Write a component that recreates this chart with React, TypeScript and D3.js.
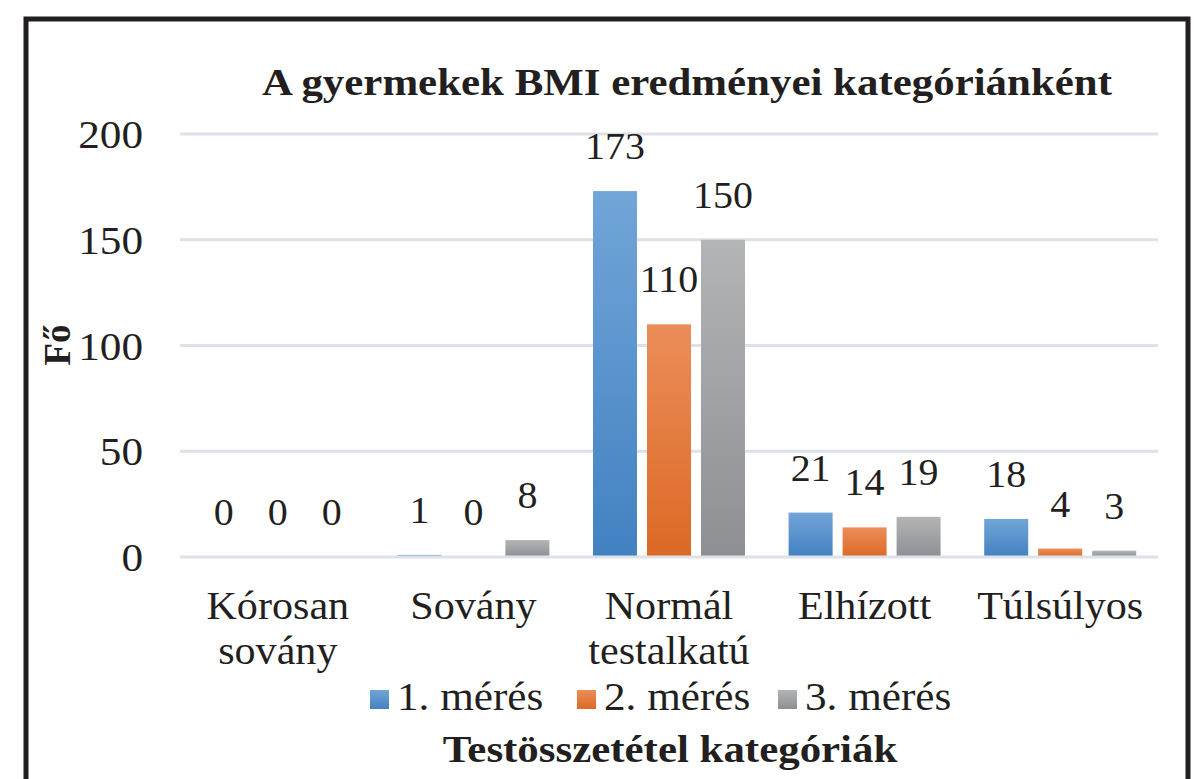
import { useEffect, useRef } from 'react';
import * as d3 from 'd3';

const categories = ['Kórosan sovány', 'Sovány', 'Normál testalkatú', 'Elhízott', 'Túlsúlyos'];
const seriesNames = ['1. mérés', '2. mérés', '3. mérés'];
const meres1 = [0, 1, 173, 21, 18];
const meres2 = [0, 0, 110, 14, 4];
const meres3 = [0, 8, 150, 19, 3];
const yTicks = [0, 50, 100, 150, 200];

const seriesValues = [meres1, meres2, meres3];
const colors = [
  { top: '#72a5d8', bottom: '#4281c1' },
  { top: '#eb8d5a', bottom: '#dc6924' },
  { top: '#b3b4b6', bottom: '#8e8f92' },
];

export default function App() {
  const svgRef = useRef<SVGSVGElement>(null);
  const width = 1194;
  const height = 779;

  useEffect(() => {
    if (!svgRef.current) return;
    const svg = d3.select(svgRef.current);
    svg.selectAll('*').remove();

    const font = '"Liberation Serif", "Times New Roman", serif';
    const sx = 1.08; // reference glyphs are a little wider
    const sxBold = 1.16;

    const x0 = d3.scaleBand<string>().domain(categories).range([180, 1158]).padding(0);
    const x1 = d3.scaleBand<string>()
      .domain(seriesNames)
      .range([0, x0.bandwidth()])
      .paddingInner(0.185)
      .paddingOuter(0.404);
    const y = d3.scaleLinear().domain([0, 200]).range([557, 134]);

    const defs = svg.append('defs');
    colors.forEach((c, i) => {
      const g = defs.append('linearGradient')
        .attr('id', `grad${i}`)
        .attr('x1', 0).attr('y1', 0).attr('x2', 0).attr('y2', 1);
      g.append('stop').attr('offset', '0%').attr('stop-color', c.top);
      g.append('stop').attr('offset', '100%').attr('stop-color', c.bottom);
    });

    // frame
    svg.append('rect')
      .attr('x', 26).attr('y', 19)
      .attr('width', 1162).attr('height', 800)
      .attr('fill', 'white')
      .attr('stroke', '#231f20')
      .attr('stroke-width', 5);

    // gridlines
    svg.append('g')
      .selectAll('line')
      .data(yTicks.filter(t => t > 0))
      .enter()
      .append('line')
      .attr('x1', 180).attr('x2', 1158)
      .attr('y1', d => y(d)).attr('y2', d => y(d))
      .attr('stroke', '#dde2ea')
      .attr('stroke-width', 3);

    // y tick labels
    svg.append('g')
      .selectAll('text')
      .data(yTicks)
      .enter()
      .append('text')
      .attr('transform', d => `translate(143,${y(d)}) scale(${sx},1)`)
      .attr('dy', '0.35em')
      .attr('text-anchor', 'end')
      .style('font-family', font)
      .style('font-size', '40px')
      .style('fill', '#231f20')
      .text(d => d);

    // bars + labels
    seriesNames.forEach((s, si) => {
      const g = svg.append('g');
      const vals = seriesValues[si];
      g.selectAll('rect')
        .data(vals)
        .enter()
        .append('rect')
        .attr('x', (d, i) => (x0(categories[i]) || 0) + (x1(s) || 0))
        .attr('y', d => y(d))
        .attr('width', x1.bandwidth())
        .attr('height', d => y(0) - y(d))
        .attr('fill', `url(#grad${si})`);
      g.selectAll('text')
        .data(vals)
        .enter()
        .append('text')
        .attr('transform', (d, i) =>
          `translate(${(x0(categories[i]) || 0) + (x1(s) || 0) + x1.bandwidth() / 2},${y(d) - 32}) scale(${sx},1)`)
        .attr('text-anchor', 'middle')
        .style('font-family', font)
        .style('font-size', '37px')
        .style('fill', '#231f20')
        .text(d => d);
    });

    // baseline over bars
    svg.append('line')
      .attr('x1', 180).attr('x2', 1158)
      .attr('y1', y(0)).attr('y2', y(0))
      .attr('stroke', '#dde2ea')
      .attr('stroke-width', 3);

    // category labels
    const cat = svg.append('g')
      .selectAll('text')
      .data(categories)
      .enter()
      .append('text')
      .attr('transform', d => `translate(${(x0(d) || 0) + x0.bandwidth() / 2},619) scale(${sx},1)`)
      .attr('text-anchor', 'middle')
      .style('font-family', font)
      .style('font-size', '39px')
      .style('fill', '#231f20');
    cat.each(function (d) {
      const t = d3.select(this);
      d.split(' ').forEach((w, i) => {
        t.append('tspan')
          .attr('x', 0)
          .attr('dy', i === 0 ? 0 : 45)
          .text(w);
      });
    });

    // title
    svg.append('text')
      .attr('transform', `translate(687,95) scale(${sxBold},1)`)
      .attr('text-anchor', 'middle')
      .style('font-family', font)
      .style('font-size', '37px')
      .style('font-weight', 'bold')
      .style('fill', '#231f20')
      .text('A gyermekek BMI eredményei kategóriánként');

    // y axis title
    svg.append('text')
      .attr('transform', 'translate(70,345) rotate(-90)')
      .attr('text-anchor', 'middle')
      .style('font-family', font)
      .style('font-size', '37px')
      .style('font-weight', 'bold')
      .style('fill', '#231f20')
      .text('Fő');

    // legend
    const legendX = [370, 577, 778];
    const legend = svg.append('g')
      .selectAll('g')
      .data(seriesNames)
      .enter()
      .append('g')
      .attr('transform', (d, i) => `translate(${legendX[i]},0)`);
    legend.append('rect')
      .attr('x', 0).attr('y', 690)
      .attr('width', 19).attr('height', 19)
      .attr('fill', (d, i) => `url(#grad${i})`);
    legend.append('text')
      .attr('transform', `translate(27,710) scale(${sx},1)`)
      .style('font-family', font)
      .style('font-size', '40px')
      .style('fill', '#231f20')
      .text(d => d);

    // x axis title
    svg.append('text')
      .attr('transform', `translate(670,762) scale(${sxBold},1)`)
      .attr('text-anchor', 'middle')
      .style('font-family', font)
      .style('font-size', '37px')
      .style('font-weight', 'bold')
      .style('fill', '#231f20')
      .text('Testösszetétel kategóriák');
  }, []);

  return (
    <svg ref={svgRef} width={width} height={height}
      style={{ position: 'absolute', left: 0, top: 0, background: 'white' }} />
  );
}
